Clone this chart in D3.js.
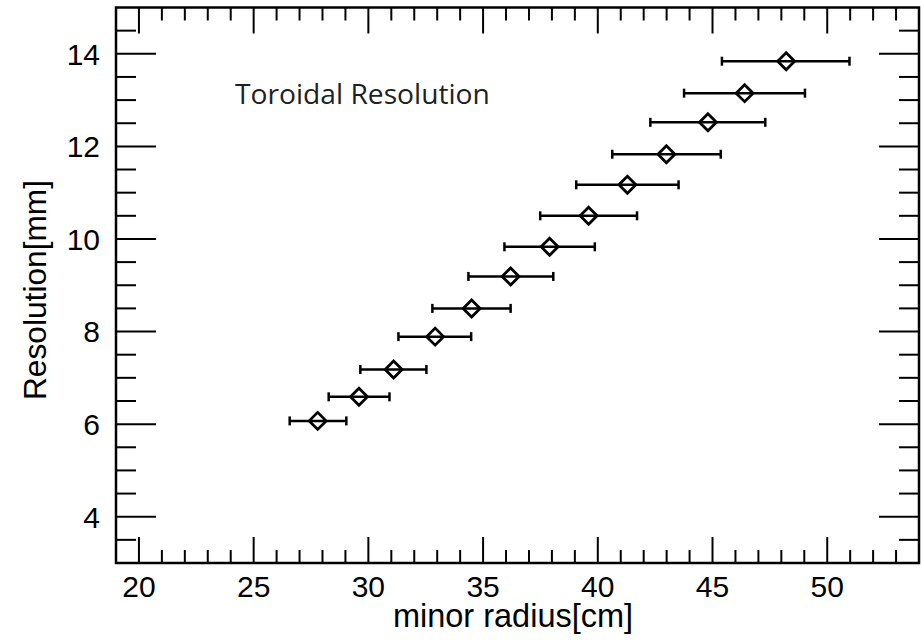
<!DOCTYPE html>
<html>
<head>
<meta charset="utf-8">
<script src="https://cdn.jsdelivr.net/npm/d3@7"></script>
<style>
  body { margin: 0; background: #fff; }
  svg { display: block; }
</style>
</head>
<body>
<svg id="main" width="921" height="640"></svg>
<script>
// values
const radius     = [27.79, 29.59, 31.10, 32.91, 34.50, 36.20, 37.90, 39.60, 41.29, 42.99, 44.80, 46.40, 48.21];
const radiusLow  = [26.57, 28.27, 29.65, 31.31, 32.79, 34.36, 35.93, 37.49, 39.06, 40.63, 42.29, 43.76, 45.41];
const radiusHigh = [29.04, 30.92, 32.53, 34.48, 36.20, 38.06, 39.87, 41.71, 43.52, 45.36, 47.30, 49.03, 50.97];
const resolution = [6.07, 6.59, 7.18, 7.89, 8.50, 9.19, 9.83, 10.50, 11.17, 11.83, 12.52, 13.15, 13.84];

const xTickLabels = [20, 25, 30, 35, 40, 45, 50];
const yTickLabels = [4, 6, 8, 10, 12, 14];

const render = () => {
    const size = {
        width: 921, height: 640,
        plot: {left: 116, right: 919, top: 7.5, bottom: 563}
    };

    const points = radius.map((d, i) => {
        return {x: d, y: resolution[i], lo: radiusLow[i], hi: radiusHigh[i]};
    });

    const xScale = d3.scaleLinear([19, 54], [size.plot.left, size.plot.right]);
    const yScale = d3.scaleLinear([3, 15], [size.plot.bottom, size.plot.top]);

    const svg = d3.select("#main");

    const xMinor = d3.range(20, 54, 1);
    const yMinor = d3.range(3.5, 15, 0.5);
    const isXMajor = v => v % 5 === 0;
    const isYMajor = v => v % 2 === 0;

    const ticks = svg.append("g")
        .attr("stroke", "black")
        .attr("stroke-width", 2);

    // bottom and top ticks
    ticks.selectAll("line.xb")
        .data(xMinor)
        .join("line")
        .attr("class", "xb")
        .attr("x1", d => xScale(d)).attr("x2", d => xScale(d))
        .attr("y1", size.plot.bottom)
        .attr("y2", d => size.plot.bottom - (isXMajor(d) ? 26 : 13));
    ticks.selectAll("line.xt")
        .data(xMinor)
        .join("line")
        .attr("class", "xt")
        .attr("x1", d => xScale(d)).attr("x2", d => xScale(d))
        .attr("y1", size.plot.top)
        .attr("y2", d => size.plot.top + (isXMajor(d) ? 26 : 13));

    // left and right ticks
    ticks.selectAll("line.yl")
        .data(yMinor)
        .join("line")
        .attr("class", "yl")
        .attr("y1", d => yScale(d)).attr("y2", d => yScale(d))
        .attr("x1", size.plot.left)
        .attr("x2", d => size.plot.left + (isYMajor(d) ? 40 : 20));
    ticks.selectAll("line.yr")
        .data(yMinor)
        .join("line")
        .attr("class", "yr")
        .attr("y1", d => yScale(d)).attr("y2", d => yScale(d))
        .attr("x1", size.plot.right)
        .attr("x2", d => size.plot.right - (isYMajor(d) ? 40 : 20));

    // frame
    svg.append("rect")
        .attr("x", size.plot.left)
        .attr("y", size.plot.top)
        .attr("width", size.plot.right - size.plot.left)
        .attr("height", size.plot.bottom - size.plot.top)
        .attr("fill", "none")
        .attr("stroke", "black")
        .attr("stroke-width", 2.5);

    // tick labels
    svg.append("g")
        .selectAll("text")
        .data(xTickLabels)
        .join("text")
        .attr("x", d => xScale(d))
        .attr("y", 597)
        .attr("text-anchor", "middle")
        .attr("font-family", "Liberation Sans, Arial, sans-serif")
        .attr("font-size", 30)
        .text(d => d);

    svg.append("g")
        .selectAll("text")
        .data(yTickLabels)
        .join("text")
        .attr("x", 100)
        .attr("y", d => yScale(d))
        .attr("dy", "0.36em")
        .attr("text-anchor", "end")
        .attr("font-family", "Liberation Sans, Arial, sans-serif")
        .attr("font-size", 30)
        .text(d => d);

    // axis titles
    svg.append("text")
        .attr("x", 513)
        .attr("y", 627)
        .attr("text-anchor", "middle")
        .attr("font-family", "Liberation Sans, Arial, sans-serif")
        .attr("font-size", 32.5)
        .text("minor radius[cm]");

    svg.append("text")
        .attr("transform", "translate(46,290) rotate(-90)")
        .attr("text-anchor", "middle")
        .attr("font-family", "Liberation Sans, Arial, sans-serif")
        .attr("font-size", 31.7)
        .text("Resolution[mm]");

    svg.append("text")
        .attr("x", 235)
        .attr("y", 104)
        .attr("font-family", "Open Sans, sans-serif")
        .attr("font-size", 28.2)
        .attr("fill", "#231f20")
        .text("Toroidal Resolution");

    // error bars
    const bars = svg.append("g")
        .attr("stroke", "black")
        .attr("stroke-width", 2.5);

    bars.selectAll("line.bar")
        .data(points)
        .join("line")
        .attr("class", "bar")
        .attr("x1", d => xScale(d.lo)).attr("x2", d => xScale(d.hi))
        .attr("y1", d => yScale(d.y)).attr("y2", d => yScale(d.y));
    bars.selectAll("line.capl")
        .data(points)
        .join("line")
        .attr("class", "capl")
        .attr("x1", d => xScale(d.lo)).attr("x2", d => xScale(d.lo))
        .attr("y1", d => yScale(d.y) - 4.5).attr("y2", d => yScale(d.y) + 4.5);
    bars.selectAll("line.caph")
        .data(points)
        .join("line")
        .attr("class", "caph")
        .attr("x1", d => xScale(d.hi)).attr("x2", d => xScale(d.hi))
        .attr("y1", d => yScale(d.y) - 4.5).attr("y2", d => yScale(d.y) + 4.5);

    // diamond markers
    const r = 8.5;
    svg.append("g")
        .selectAll("path")
        .data(points)
        .join("path")
        .attr("d", d => {
            const cx = xScale(d.x), cy = yScale(d.y);
            return `M${cx},${cy - r} L${cx + r},${cy} L${cx},${cy + r} L${cx - r},${cy} Z`;
        })
        .attr("fill", "none")
        .attr("stroke", "black")
        .attr("stroke-width", 2.8);
};

render();
</script>
</body>
</html>
